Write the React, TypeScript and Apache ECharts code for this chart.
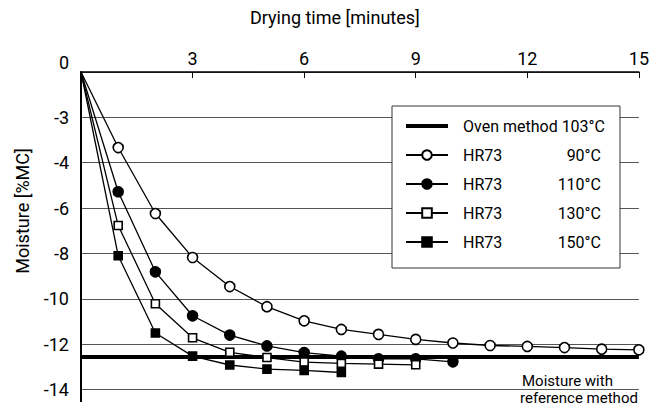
import React, { useEffect, useRef } from 'react';
import * as echarts from 'echarts';

const FONT = 'Roboto, "Noto Sans", sans-serif';

const minutes = [0, 1, 2, 3, 4, 5, 6, 7, 8, 9, 10, 11, 12, 13, 14, 15];
const xTicks = [0, 3, 6, 9, 12, 15];
const yTickLabels: Record<string, string> = {
  '0': '0', '-2': '-3', '-4': '-4', '-6': '-6', '-8': '-8',
  '-10': '-10', '-12': '-12', '-14': '-14',
};

const hr73_90 = [0, -3.33, -6.24, -8.18, -9.46, -10.35, -10.97, -11.35, -11.57, -11.79, -11.95, -12.06, -12.1, -12.15, -12.22, -12.25];
const hr73_110 = [0, -5.28, -8.81, -10.75, -11.6, -12.08, -12.37, -12.53, -12.65, -12.65, -12.78];
const hr73_130 = [0, -6.77, -10.22, -11.72, -12.36, -12.59, -12.79, -12.85, -12.88, -12.91];
const hr73_150 = [0, -8.1, -11.51, -12.53, -12.92, -13.1, -13.16, -13.25];
const ovenMoisture = -12.57;

const ovenName = 'Oven method 103°C';
const seriesNames = ['HR73 90°C', 'HR73 110°C', 'HR73 130°C', 'HR73 150°C'];

function toData(vals: number[]) {
  return vals.map((v, i) =>
    i === 0 ? { value: [minutes[i], v], symbol: 'none' } : [minutes[i], v]
  );
}

export default function App() {
  const ref = useRef<HTMLDivElement>(null);
  useEffect(() => {
    document.body.style.margin = '0';
    const chart = echarts.init(ref.current!, null, { renderer: 'svg' });
    const mk = (name: string, vals: number[], symbol: string, size: number, fill: string) => ({
      type: 'line',
      name,
      data: toData(vals),
      symbol,
      symbolSize: size,
      showSymbol: true,
      itemStyle: { color: fill, borderColor: '#000', borderWidth: 1.6 },
      lineStyle: { color: '#000', width: 1.3 },
      z: 3,
    });
    chart.setOption({
      animation: false,
      backgroundColor: '#fff',
      title: {
        text: 'Drying time [minutes]',
        left: 250,
        top: 8,
        padding: 0,
        textStyle: { fontFamily: FONT, fontSize: 18, fontWeight: 'normal', color: '#000' },
      },
      grid: { left: 81, right: 7, top: 72, height: 317.5 },
      xAxis: {
        type: 'value',
        position: 'top',
        min: xTicks[0],
        max: xTicks[xTicks.length - 1],
        interval: 3,
        axisLine: { onZero: false, lineStyle: { color: '#000', width: 1.5 } },
        axisTick: { inside: true, length: 6, lineStyle: { color: '#000', width: 1 } },
        axisLabel: {
          formatter: (v: number) => (v === 0 ? '' : String(v)),
          margin: 5,
          fontFamily: FONT, fontSize: 18, color: '#000',
        },
        splitLine: { show: false },
      },
      yAxis: {
        type: 'value',
        min: -14,
        max: 0,
        interval: 2,
        axisLine: { show: true, onZero: false, lineStyle: { color: '#000', width: 2 } },
        axisTick: { show: false },
        axisLabel: {
          formatter: (v: number) => (v === 0 ? '{z|0}' : yTickLabels[String(v)] ?? String(v)),
          margin: 12,
          fontFamily: FONT, fontSize: 18, color: '#000',
          rich: { z: { fontFamily: FONT, fontSize: 18, color: '#000', padding: [0, 0, 20, 0] } },
        },
        splitLine: { show: true, lineStyle: { color: '#555', width: 1 } },
      },
      legend: {
        orient: 'vertical',
        left: 392,
        top: 106,
        itemWidth: 42,
        itemHeight: 12,
        itemGap: 13,
        padding: [12, 15, 18, 13],
        backgroundColor: '#fff',
        borderColor: '#333',
        borderWidth: 1,
        data: [
          { name: ovenName, icon: 'path://M0 0H42V4H0Z' },
          ...seriesNames,
        ],
        formatter: (name: string) => {
          if (name.startsWith('HR73')) {
            const temp = name.split(' ')[1];
            return `{n|HR73}{t|${temp}}`;
          }
          return `{o|${name}}`;
        },
        textStyle: {
          fontFamily: FONT, fontSize: 16, color: '#000',
          rich: {
            n: { fontFamily: FONT, fontSize: 16, color: '#000', width: 62, padding: [0, 0, 0, 10] },
            t: { fontFamily: FONT, fontSize: 16, color: '#000', width: 76, align: 'right' },
            o: { fontFamily: FONT, fontSize: 16, color: '#000', padding: [0, 0, 0, 10] },
          },
        },
      },
      graphic: [
        {
          type: 'text',
          x: 22,
          y: 211,
          rotation: Math.PI / 2,
          style: {
            text: 'Moisture [%MC]', fontFamily: FONT, fontSize: 18, fill: '#000',
            textAlign: 'center', textVerticalAlign: 'middle',
          },
        },
        {
          type: 'text', x: 522, y: 381,
          style: { text: 'Moisture with', fontFamily: FONT, fontSize: 15, fill: '#000', textVerticalAlign: 'middle' },
        },
        {
          type: 'text', x: 520, y: 398,
          style: { text: 'reference method', fontFamily: FONT, fontSize: 15, fill: '#000', textVerticalAlign: 'middle' },
        },
        {
          type: 'line',
          shape: { x1: 81, y1: 389, x2: 81, y2: 402 },
          style: { stroke: '#000', lineWidth: 2 },
        },
      ],
      series: [
        {
          type: 'line',
          name: ovenName,
          data: [[xTicks[0], ovenMoisture], [xTicks[xTicks.length - 1], ovenMoisture]],
          symbol: 'none',
          lineStyle: { color: '#000', width: 4 },
          itemStyle: { color: '#000' },
          z: 2,
        },
        mk(seriesNames[0], hr73_90, 'circle', 10, '#fff'),
        mk(seriesNames[1], hr73_110, 'circle', 10, '#000'),
        mk(seriesNames[2], hr73_130, 'rect', 8, '#fff'),
        mk(seriesNames[3], hr73_150, 'rect', 8, '#000'),
      ],
    });
    return () => chart.dispose();
  }, []);
  return (
    <div
      ref={ref}
      style={{ position: 'fixed', left: 0, top: 0, width: 652, height: 409 }}
    />
  );
}
